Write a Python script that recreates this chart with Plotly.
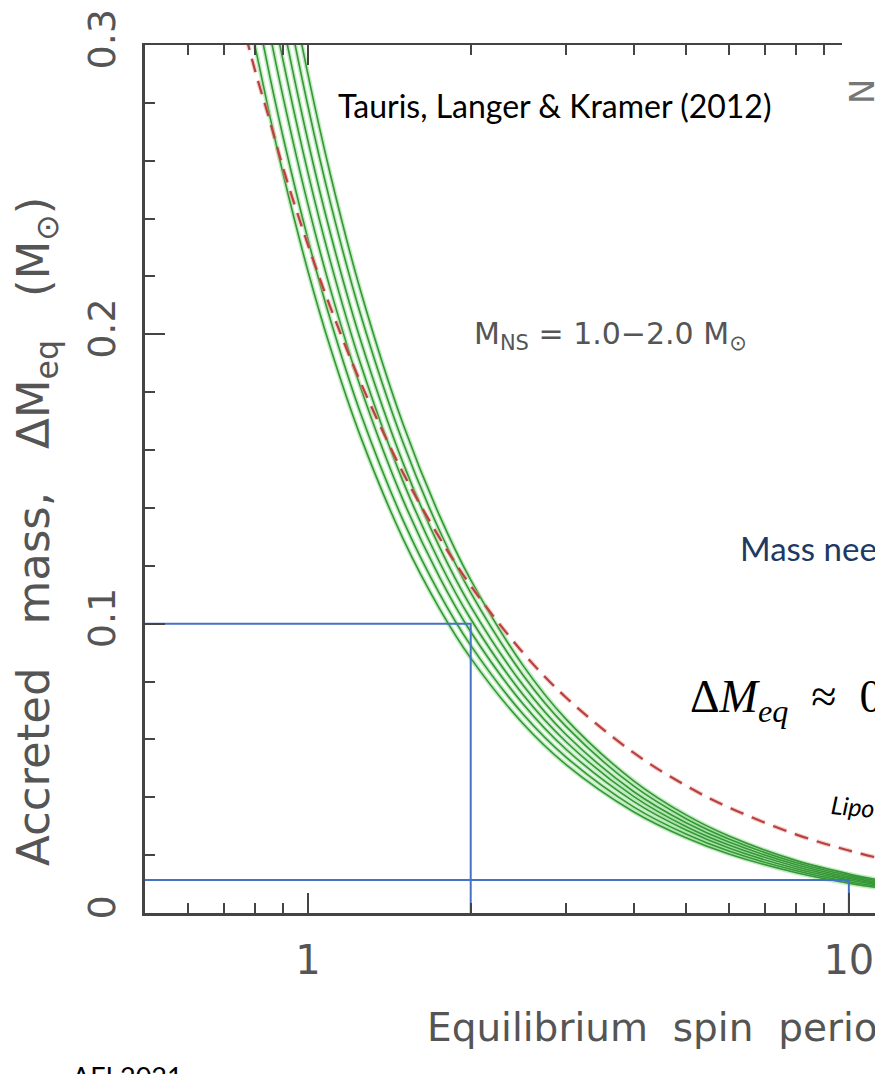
import plotly.graph_objects as go

# Equilibrium spin period grid (ms)
period_ms = [0.75, 0.8, 0.85, 0.9, 1.0, 1.1, 1.25, 1.5, 1.75, 2.0,
             2.5, 3.0, 4.0, 5.0, 6.0, 8.0, 10.0, 12.0]

# Accreted mass (Msun) for neutron star masses 1.0 ... 2.0 Msun
dm_m10 = [0.3258, 0.2989, 0.2757, 0.2555, 0.2220, 0.1955, 0.1649, 0.1293, 0.1053, 0.0881,
          0.0654, 0.0513, 0.0350, 0.0260, 0.0204, 0.0139, 0.0103, 0.0081]
dm_m12 = [0.3419, 0.3137, 0.2894, 0.2682, 0.2330, 0.2052, 0.1730, 0.1357, 0.1105, 0.0925,
          0.0687, 0.0539, 0.0367, 0.0273, 0.0214, 0.0146, 0.0108, 0.0085]
dm_m13 = [0.3596, 0.3299, 0.3043, 0.2820, 0.2450, 0.2158, 0.1820, 0.1427, 0.1162, 0.0972,
          0.0722, 0.0566, 0.0386, 0.0287, 0.0225, 0.0153, 0.0114, 0.0089]
dm_m15 = [0.3757, 0.3447, 0.3179, 0.2946, 0.2560, 0.2254, 0.1901, 0.1491, 0.1214, 0.1016,
          0.0754, 0.0592, 0.0403, 0.0299, 0.0235, 0.0160, 0.0119, 0.0093]
dm_m17 = [0.3918, 0.3595, 0.3316, 0.3073, 0.2670, 0.2351, 0.1983, 0.1555, 0.1266, 0.1060,
          0.0787, 0.0617, 0.0420, 0.0312, 0.0245, 0.0167, 0.0124, 0.0097]
dm_m18 = [0.4095, 0.3757, 0.3465, 0.3211, 0.2790, 0.2457, 0.2072, 0.1625, 0.1323, 0.1107,
          0.0822, 0.0645, 0.0439, 0.0326, 0.0256, 0.0174, 0.0130, 0.0102]
dm_m20 = [0.4256, 0.3905, 0.3602, 0.3338, 0.2900, 0.2554, 0.2154, 0.1689, 0.1375, 0.1151,
          0.0855, 0.0670, 0.0457, 0.0339, 0.0266, 0.0181, 0.0135, 0.0106]
green_curves = [dm_m10, dm_m12, dm_m13, dm_m15, dm_m17, dm_m18, dm_m20]

# Alternative relation (dashed)
dm_dashed = [0.3107, 0.2907, 0.2740, 0.2575, 0.2310, 0.2095, 0.1836, 0.1521, 0.1298, 0.1131,
             0.0899, 0.0745, 0.0554, 0.0440, 0.0365, 0.0271, 0.0216, 0.0179]

# Reference guides: (period, accreted mass)
guide_period = [2.0, 10.0]
guide_mass = [0.1, 0.0114]

# Axis ticks
y_major = [0.0, 0.1, 0.2, 0.3]
y_major_text = ["0", "0.1", "0.2", "0.3"]
y_minor = [0.02, 0.04, 0.06, 0.08, 0.12, 0.14, 0.16, 0.18, 0.22, 0.24, 0.26, 0.28]
x_major = [1, 10]
x_major_text = ["1", "10"]
x_minor = [0.6, 0.7, 0.8, 0.9, 2, 3, 4, 5, 6, 7, 8, 9]

W, H = 875, 1074
ML, MR, MT, MB = 145, 0, 45, 161
PW, PH = W - ML - MR, H - MT - MB


def px(X):
    return (X - ML) / PW


def py(Y):
    return (MT + PH - Y) / PH


AX = "#444444"
LBL = "#555555"
PLOT_FONT = "DejaVu Sans"

fig = go.Figure()

for dm in green_curves:
    fig.add_trace(go.Scatter(x=period_ms, y=dm, mode="lines",
                             line=dict(color="rgba(120,215,120,0.45)", width=4.5, shape="spline"),
                             hoverinfo="skip", showlegend=False))
for dm in green_curves:
    fig.add_trace(go.Scatter(x=period_ms, y=dm, mode="lines",
                             line=dict(color="rgb(55,150,55)", width=1.6, shape="spline"),
                             showlegend=False))

fig.add_trace(go.Scatter(x=period_ms, y=dm_dashed, mode="lines",
                         line=dict(color="rgba(230,150,140,0.45)", width=4.5, dash="14px,9px",
                                   shape="spline"),
                         hoverinfo="skip", showlegend=False))
fig.add_trace(go.Scatter(x=period_ms, y=dm_dashed, mode="lines",
                         line=dict(color="rgb(185,65,65)", width=2.2, dash="14px,9px", shape="spline"),
                         showlegend=False))

x_left = 0.5
for p, m in zip(guide_period, guide_mass):
    fig.add_trace(go.Scatter(x=[x_left, p, p], y=[m, m, 0], mode="lines",
                             line=dict(color="#4472C4", width=2),
                             showlegend=False))

# top frame axis (needs a trace to exist)
fig.add_trace(go.Scatter(x=[], y=[], xaxis="x2", yaxis="y", showlegend=False))

x_lo = -0.30103
decade = 541.0
x_hi = x_lo + PW / decade
top_end = 842
x2_hi = x_lo + (top_end - ML) / decade

fig.update_layout(
    width=W, height=H,
    margin=dict(l=ML, r=MR, t=MT, b=MB),
    paper_bgcolor="white", plot_bgcolor="rgba(0,0,0,0)",
    showlegend=False,
    xaxis=dict(type="log", range=[x_lo, x_hi], domain=[0, 1],
               showline=True, linecolor=AX, linewidth=2.5, mirror=False,
               showgrid=False, zeroline=False,
               tickvals=x_major, ticktext=x_major_text,
               ticks="inside", ticklen=20, tickwidth=2, tickcolor=AX,
               minor=dict(tickvals=x_minor, ticks="inside", ticklen=10, tickwidth=2, tickcolor=AX),
               tickfont=dict(family=PLOT_FONT, size=40, color=LBL),
               ticklabelstandoff=10),
    xaxis2=dict(type="log", range=[x_lo, x2_hi], domain=[0, px(top_end)],
                anchor="y", side="top",
                showline=True, linecolor=AX, linewidth=2, showgrid=False, zeroline=False,
                tickvals=[1], ticks="inside", ticklen=20, tickwidth=2, tickcolor=AX,
                showticklabels=False,
                minor=dict(tickvals=x_minor, ticks="inside", ticklen=10, tickwidth=2, tickcolor=AX)),
    yaxis=dict(range=[0, 0.3], domain=[0, 1],
               showline=True, linecolor=AX, linewidth=2.5,
               showgrid=False, zeroline=False,
               tickvals=y_major, ticktext=y_major_text,
               ticks="inside", ticklen=20, tickwidth=2, tickcolor=AX,
               minor=dict(tickvals=y_minor, ticks="inside", ticklen=10, tickwidth=2, tickcolor=AX),
               tickangle=-90,
               tickfont=dict(family=PLOT_FONT, size=38, color=LBL),
               ticklabelstandoff=12),
)

ann = [
    dict(text="Accreted   mass,   \u0394M<sub>eq</sub>   (M<sub>\u2299</sub>)",
         x=px(36), y=py(532), xanchor="center", yanchor="middle", textangle=-90,
         font=dict(family=PLOT_FONT, size=45, color=LBL)),
    dict(text="Equilibrium  spin  period,  P<sub>eq</sub>  (ms)",
         x=px(425), y=py(1030), xanchor="left", yanchor="middle",
         font=dict(family=PLOT_FONT, size=39, color=LBL)),
    dict(text="M<sub>NS</sub> = 1.0\u22122.0 M<sub>\u2299</sub>",
         x=px(472), y=py(335), xanchor="left", yanchor="middle",
         font=dict(family=PLOT_FONT, size=30, color=LBL)),
    dict(text="N", x=px(862), y=py(92), xanchor="center", yanchor="middle", textangle=-90,
         font=dict(family=PLOT_FONT, size=34, color="#777777")),
    dict(text="Tauris, Langer &amp; Kramer (2012)",
         x=px(336), y=py(105), xanchor="left", yanchor="middle",
         font=dict(family="Lato", size=32, color="black")),
    dict(text="Mass needed",
         x=px(738), y=py(548), xanchor="left", yanchor="middle",
         font=dict(family="Lato", size=33, color="#203864")),
    dict(text="\u0394<i>M</i><sub><i>eq</i></sub>  \u2248  0.22",
         x=px(688), y=py(700), xanchor="left", yanchor="middle",
         font=dict(family="Liberation Serif", size=46, color="black")),
    dict(text="<i>Lipo</i>",
         x=px(828), y=py(806), xanchor="left", yanchor="middle", textangle=5,
         font=dict(family="Lato", size=25, color="black")),
    dict(text="AFI 2021",
         x=px(70), y=py(1076), xanchor="left", yanchor="middle",
         font=dict(family="Lato", size=27, color="black")),
]
for a in ann:
    a.update(xref="paper", yref="paper", showarrow=False)
fig.update_layout(annotations=ann)

fig.write_html("out.html")
